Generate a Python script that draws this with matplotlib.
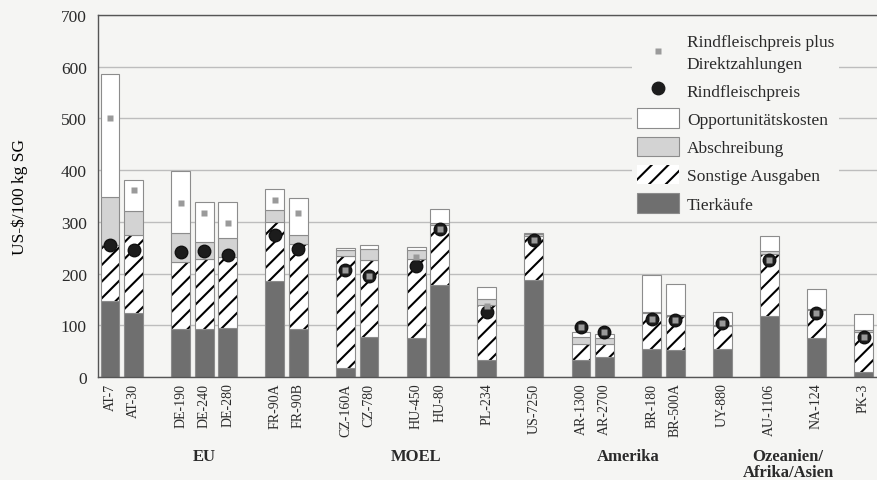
import numpy as np
import matplotlib

matplotlib.use("Agg")
import matplotlib.pyplot as plt
from matplotlib.patches import Patch
from matplotlib.lines import Line2D

# Betriebe, nach Regionen in Cluster gruppiert (Lücke zwischen Clustern)
CLUSTERS = [
    ["AT-7", "AT-30"],
    ["DE-190", "DE-240", "DE-280"],
    ["FR-90A", "FR-90B"],
    ["CZ-160A", "CZ-780"],
    ["HU-450", "HU-80"],
    ["PL-234"],
    ["US-7250"],
    ["AR-1300", "AR-2700"],
    ["BR-180", "BR-500A"],
    ["UY-880"],
    ["AU-1106"],
    ["NA-124"],
    ["PK-3"],
]
REGIONS = ["EU", "MOEL", "Amerika", "Ozeanien/\nAfrika/Asien"]
REGION_FIRST = ["AT-7", "CZ-160A", "US-7250", "AU-1106"]
REGION_LAST = ["FR-90B", "PL-234", "UY-880", "PK-3"]

# Kostenbestandteile, US-$/100 kg SG
tierkaeufe = [147, 123, 93, 93, 94, 185, 92, 18, 77, 76, 178, 33, 187, 33, 38, 54, 52, 54, 118, 75, 9]
sonstige = [108, 152, 130, 136, 138, 114, 166, 216, 150, 152, 115, 107, 85, 30, 25, 69, 66, 44, 119, 54, 79]
abschreibung = [93, 46, 55, 33, 36, 23, 17, 11, 20, 18, 4, 10, 5, 14, 12, 2, 2, 2, 7, 2, 2]
opportunitaet = [238, 59, 121, 76, 70, 41, 71, 5, 8, 5, 28, 24, 2, 11, 9, 73, 60, 26, 29, 39, 31]
preis = [255, 245, 242, 244, 236, 275, 247, 206, 195, 215, 286, 126, 264, 96, 88, 113, 110, 105, 227, 123, 78]
preis_dz = [500, 361, 336, 317, 297, 343, 318, 206, 195, 232, 286, 137, 264, 96, 88, 113, 110, 105, 227, 123, 78]

BG = "#f5f5f3"
DARK = "#6f6f6f"
LIGHT = "#d3d3d3"
EDGE = "#8c8c8c"
TXT = "#2a2a2a"

plt.rcParams.update({
    "font.family": ["Liberation Serif", "DejaVu Serif"],
    "hatch.linewidth": 1.5,
    "text.color": TXT,
    "xtick.color": TXT,
    "ytick.color": TXT,
})

labels, pos = [], []
x = 0
for cl in CLUSTERS:
    for name in cl:
        labels.append(name)
        pos.append(x)
        x += 1
    x += 1
pos = np.array(pos, dtype=float)

t = np.array(tierkaeufe)
s = np.array(sonstige)
a = np.array(abschreibung)
o = np.array(opportunitaet)

fig = plt.figure(figsize=(8.78, 4.81), dpi=100, facecolor=BG)
ax = fig.add_axes([0.1116, 0.214, 0.888, 0.753], facecolor=BG)

w = 0.8
ax.bar(pos, t, w, color=DARK, edgecolor=EDGE, lw=0.8, zorder=2)
ax.bar(pos, s, w, bottom=t, color="white", edgecolor="k", lw=0, hatch="//", zorder=2)
ax.bar(pos, s, w, bottom=t, fill=False, edgecolor=EDGE, lw=0.8, zorder=2)
ax.bar(pos, a, w, bottom=t + s, color=LIGHT, edgecolor=EDGE, lw=0.8, zorder=2)
ax.bar(pos, o, w, bottom=t + s + a, color="white", edgecolor=EDGE, lw=0.8, zorder=2)

ax.plot(pos, preis, "o", ls="", ms=9, color="#1c1c1c", mec="#111", zorder=4)
ax.plot(pos, preis_dz, "s", ls="", ms=4.4, color="#9a9a9a", mec="none", zorder=5)

ax.set_xlim(-0.51, 32.6)
ax.set_ylim(0, 700)
ax.set_yticks(range(0, 701, 100))
ax.yaxis.grid(True, color="#bdbdbd", lw=1.0)
ax.set_axisbelow(True)
ax.tick_params(axis="y", length=0, pad=8, labelsize=12.5)
ax.set_xticks(pos)
ax.set_xticklabels(labels, rotation=90, fontsize=10)
ax.tick_params(axis="x", length=0, pad=4)
for sp in ["left", "bottom", "top"]:
    ax.spines[sp].set_color("#555555")
    ax.spines[sp].set_linewidth(1.0)
ax.spines["right"].set_visible(False)
ax.set_ylabel("US-$/100 kg SG", fontsize=12.5, labelpad=24)

# Regionsbeschriftung unter den Betriebsnamen
for reg, f, l in zip(REGIONS, REGION_FIRST, REGION_LAST):
    xc = (pos[labels.index(f)] + pos[labels.index(l)]) / 2
    if reg.startswith("Ozeanien"):
        xc -= 1.2  # steht im Original etwas nach links versetzt
    ax.text(xc, -0.195, reg, transform=ax.get_xaxis_transform(), ha="center", va="top",
            fontsize=12, fontweight="bold", linespacing=1.0)

handles = [
    Line2D([], [], marker="s", ls="", ms=4.4, color="#9a9a9a", mec="none",
           label="Rindfleischpreis plus\nDirektzahlungen"),
    Line2D([], [], marker="o", ls="", ms=9, color="#1c1c1c", label="Rindfleischpreis"),
    Patch(facecolor="white", edgecolor=EDGE, lw=0.8, label="Opportunitätskosten"),
    Patch(facecolor=LIGHT, edgecolor=EDGE, lw=0.8, label="Abschreibung"),
    Patch(facecolor="white", edgecolor="k", lw=0, hatch="//", label="Sonstige Ausgaben"),
    Patch(facecolor=DARK, edgecolor=EDGE, lw=0.8, label="Tierkäufe"),
]
leg = ax.legend(handles=handles, loc="upper right", bbox_to_anchor=(0.962, 0.985),
                fontsize=12.5, frameon=True, facecolor=BG, edgecolor="none", framealpha=1,
                handlelength=2.4, handleheight=1.35, labelspacing=0.5, handletextpad=0.45,
                borderpad=0.3)
for txt in leg.get_texts():
    txt.set_linespacing(1.45)
leg.set_zorder(6)

fig.savefig("out.png", dpi=100, facecolor=BG)
